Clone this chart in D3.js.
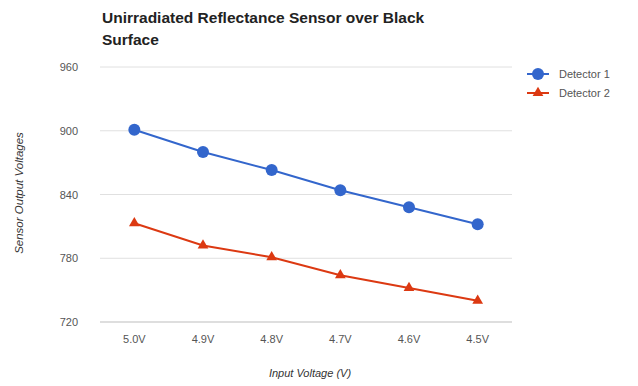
<!DOCTYPE html>
<html><head><meta charset="utf-8">
<script src="https://cdn.jsdelivr.net/npm/d3@7"></script>
<style>body{margin:0;background:#fff;}svg{display:block;font-family:Arial,"Liberation Sans",sans-serif;}</style>
</head><body>
<svg id="c" width="638" height="386"></svg>
<script>
const categories = ["5.0V","4.9V","4.8V","4.7V","4.6V","4.5V"];
const detector1 = [901, 880, 863, 844, 828, 812];
const detector2 = [813, 792, 781, 764, 752, 740];
const seriesNames = ["Detector 1","Detector 2"];
const yTicks = [720, 780, 840, 900, 960];

const svg = d3.select("#c");
const m = {l:100, r:126, t:67, b:64};
const W = 638, H = 386;
const x = d3.scaleBand().domain(categories).range([m.l, W - m.r]);
const y = d3.scaleLinear().domain([720, 960]).range([H - m.b, m.t]);

// gridlines
svg.append("g").selectAll("line").data(yTicks).join("line")
  .attr("x1", m.l).attr("x2", W - m.r)
  .attr("y1", d => y(d)).attr("y2", d => y(d))
  .attr("stroke", d => d === 720 ? "#bdbdbd" : "#e0e0e0").attr("stroke-width", 1);

// y tick labels
const yAxis = d3.axisLeft(y).tickValues(yTicks).tickSize(0).tickPadding(22);
const ga = svg.append("g").attr("transform", `translate(${m.l},0)`).call(yAxis);
ga.select(".domain").remove();
ga.selectAll("text").attr("fill", "#555").attr("font-size", 11).attr("font-family", "Arial, 'Liberation Sans', sans-serif");

// x tick labels
const xAxis = d3.axisBottom(x).tickSize(0).tickPadding(13);
const gx = svg.append("g").attr("transform", `translate(0,${H - m.b})`).call(xAxis);
gx.select(".domain").remove();
gx.selectAll("text").attr("fill", "#555").attr("font-size", 11).attr("font-family", "Arial, 'Liberation Sans', sans-serif");

const cx = d => x(d) + x.bandwidth()/2;
const line = d3.line().x((d,i) => cx(categories[i])).y(d => y(d));

const colors = ["#3366cc", "#dc3912"];

svg.append("path").datum(detector1).attr("d", line).attr("fill","none").attr("stroke", colors[0]).attr("stroke-width", 2);
svg.append("path").datum(detector2).attr("d", line).attr("fill","none").attr("stroke", colors[1]).attr("stroke-width", 2);

svg.append("g").selectAll("circle").data(detector1).join("circle")
  .attr("cx", (d,i) => cx(categories[i])).attr("cy", d => y(d)).attr("r", 6).attr("fill", colors[0]);

const tri = d3.symbol().type(d3.symbolTriangle).size(50);
svg.append("g").selectAll("path").data(detector2).join("path")
  .attr("d", tri).attr("transform", (d,i) => `translate(${cx(categories[i])},${y(d)})`).attr("fill", colors[1]);

// title
const t = svg.append("text").attr("x", 102).attr("y", 23).attr("font-size", 15.5).attr("font-weight", "bold").attr("fill", "#222");
t.append("tspan").attr("x", 102).attr("dy", 0).text("Unirradiated Reflectance Sensor over Black");
t.append("tspan").attr("x", 102).attr("dy", 22).text("Surface");

// legend
const lg = svg.append("g");
[0,1].forEach(i => {
  const ly = 74 + i*19;
  lg.append("line").attr("x1", 527).attr("x2", 549).attr("y1", ly).attr("y2", ly).attr("stroke", colors[i]).attr("stroke-width", 2);
  if (i === 0) lg.append("circle").attr("cx", 538).attr("cy", ly).attr("r", 6).attr("fill", colors[0]);
  else lg.append("path").attr("d", tri).attr("transform", `translate(538,${ly})`).attr("fill", colors[1]);
  lg.append("text").attr("x", 559).attr("y", ly + 4).attr("font-size", 11).attr("fill", "#555").text(seriesNames[i]);
});

// axis titles
svg.append("text").attr("x", 310).attr("y", 377).attr("text-anchor", "middle").attr("font-size", 11)
  .attr("font-style", "italic").attr("fill", "#333").text("Input Voltage (V)");
svg.append("text").attr("transform", "translate(23,193) rotate(-90)").attr("text-anchor", "middle")
  .attr("font-size", 11.5).attr("font-style", "italic").attr("fill", "#333").text("Sensor Output Voltages");
</script>
</body></html>
